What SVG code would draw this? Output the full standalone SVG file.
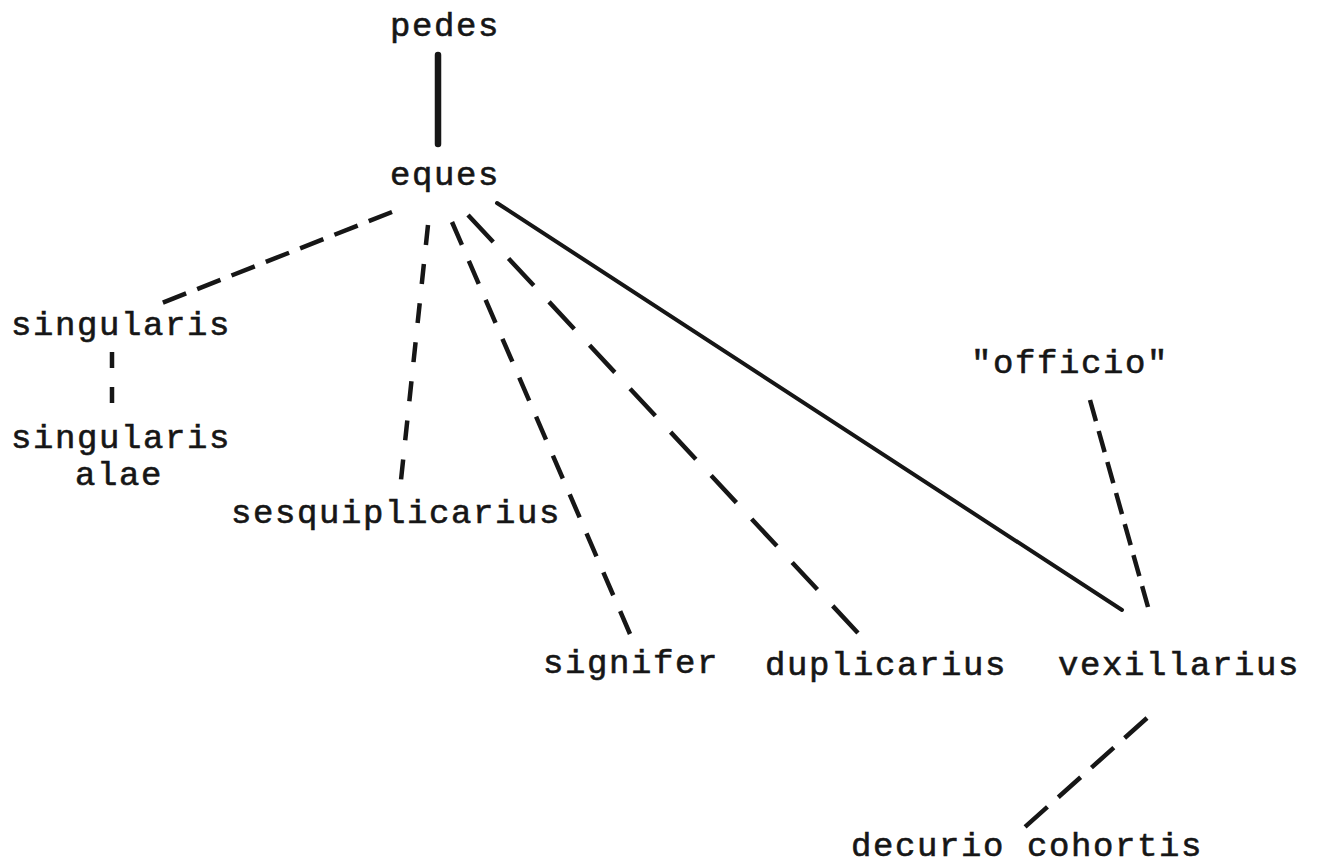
<svg xmlns="http://www.w3.org/2000/svg" width="1318" height="865" viewBox="0 0 1318 865">
<style>
  text { font-family: "Liberation Mono", "Courier New", monospace; font-size: 34px; letter-spacing: 1.6px; fill: #161616; stroke: #161616; stroke-width: 0.6; }
  .ln { stroke: #161616; fill: none; stroke-width: 4.5; stroke-linecap: butt; }
  .solid { stroke: #161616; fill: none; stroke-width: 4; stroke-linecap: round; }
</style>
<rect width="1318" height="865" fill="#ffffff"/>
<g id="connectors">
  <line class="solid" x1="438" y1="55" x2="438" y2="144" style="stroke-width:6.5"/>
  <line class="ln" x1="392" y1="212" x2="162" y2="303" stroke-dasharray="25 11.9"/>
  <line class="ln" x1="112" y1="352" x2="112" y2="403" stroke-dasharray="16 19"/>
  <line class="ln" x1="428" y1="225" x2="401" y2="480" stroke-dasharray="20 19.3"/>
  <line class="ln" x1="452" y1="222" x2="630" y2="634" stroke-dasharray="25 17.4"/>
  <line class="ln" x1="468" y1="215" x2="858" y2="633" stroke-dasharray="37 22.4"/>
  <line class="solid" x1="497" y1="203" x2="1122" y2="610"/>
  <line class="ln" x1="1090" y1="400" x2="1148" y2="607" stroke-dasharray="22 10.2"/>
  <line class="ln" x1="1147" y1="718" x2="1025" y2="827" stroke-dasharray="30 14.5"/>
</g>
<g id="node-pedes"><text x="390" y="36">pedes</text></g>
<g id="node-eques"><text x="390" y="185">eques</text></g>
<g id="node-singularis"><text x="11" y="335">singularis</text></g>
<g id="node-singularis-alae"><text x="11" y="448">singularis</text><text x="75" y="485">alae</text></g>
<g id="node-sesquiplicarius"><text x="231" y="523">sesquiplicarius</text></g>
<g id="node-signifer"><text x="543" y="673">signifer</text></g>
<g id="node-duplicarius"><text x="765" y="675">duplicarius</text></g>
<g id="node-vexillarius"><text x="1058" y="675">vexillarius</text></g>
<g id="node-officio"><text x="971" y="373">"officio"</text></g>
<g id="node-decurio-cohortis"><text x="851" y="856">decurio cohortis</text></g>
</svg>
